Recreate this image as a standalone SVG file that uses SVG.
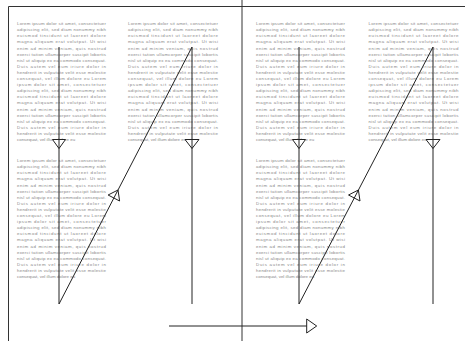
<svg xmlns="http://www.w3.org/2000/svg" width="465" height="341" viewBox="0 0 465 341">
<style>
.t{font-family:"Liberation Sans",Arial,sans-serif;font-size:4.4px;fill:#888}
.fr{fill:none;stroke:#333;stroke-width:1}
.ln{fill:none;stroke:#222;stroke-width:1}
.ah{fill:#fff;stroke:#222;stroke-width:1;stroke-linejoin:miter}
</style>
<rect width="465" height="341" fill="#fff"/>
<g id="frame">
<path class="fr" d="M8.5,341 V6.5 H465"/>
<line class="fr" x1="242" y1="0" x2="242" y2="341"/>
</g>
<g id="col1">
<g transform="translate(17,25.2)" class="t">
<text y="0" textLength="89">Lorem ipsum dolor sit amet, consectetuer</text>
<text y="6.1" textLength="89">adipiscing elit, sed diam nonummy nibh</text>
<text y="12.2" textLength="89">euismod tincidunt ut laoreet dolore</text>
<text y="18.3" textLength="89">magna aliquam erat volutpat. Ut wisi</text>
<text y="24.4" textLength="89">enim ad minim veniam, quis nostrud</text>
<text y="30.5" textLength="89">exerci tation ullamcorper suscipit lobortis</text>
<text y="36.6" textLength="89">nisl ut aliquip ex ea commodo consequat.</text>
<text y="42.7" textLength="89">Duis autem vel eum iriure dolor in</text>
<text y="48.8" textLength="89">hendrerit in vulputate velit esse molestie</text>
<text y="54.9" textLength="89">consequat, vel illum dolore eu Lorem</text>
<text y="61" textLength="89">ipsum dolor sit amet, consectetuer</text>
<text y="67.1" textLength="89">adipiscing elit, sed diam nonummy nibh</text>
<text y="73.2" textLength="89">euismod tincidunt ut laoreet dolore</text>
<text y="79.3" textLength="89">magna aliquam erat volutpat. Ut wisi</text>
<text y="85.4" textLength="89">enim ad minim veniam, quis nostrud</text>
<text y="91.5" textLength="89">exerci tation ullamcorper suscipit lobortis</text>
<text y="97.6" textLength="89">nisl ut aliquip ex ea commodo consequat.</text>
<text y="103.7" textLength="89">Duis autem vel eum iriure dolor in</text>
<text y="109.8" textLength="89">hendrerit in vulputate velit esse molestie</text>
<text y="115.9">consequat, vel illum dolore eu</text>
</g>
<g transform="translate(17,162.2)" class="t">
<text y="0" textLength="89">Lorem ipsum dolor sit amet, consectetuer</text>
<text y="6.1" textLength="89">adipiscing elit, sed diam nonummy nibh</text>
<text y="12.2" textLength="89">euismod tincidunt ut laoreet dolore</text>
<text y="18.3" textLength="89">magna aliquam erat volutpat. Ut wisi</text>
<text y="24.4" textLength="89">enim ad minim veniam, quis nostrud</text>
<text y="30.5" textLength="89">exerci tation ullamcorper suscipit lobortis</text>
<text y="36.6" textLength="89">nisl ut aliquip ex ea commodo consequat.</text>
<text y="42.7" textLength="89">Duis autem vel eum iriure dolor in</text>
<text y="48.8" textLength="89">hendrerit in vulputate velit esse molestie</text>
<text y="54.9" textLength="89">consequat, vel illum dolore eu Lorem</text>
<text y="61" textLength="89">ipsum dolor sit amet, consectetuer</text>
<text y="67.1" textLength="89">adipiscing elit, sed diam nonummy nibh</text>
<text y="73.2" textLength="89">euismod tincidunt ut laoreet dolore</text>
<text y="79.3" textLength="89">magna aliquam erat volutpat. Ut wisi</text>
<text y="85.4" textLength="89">enim ad minim veniam, quis nostrud</text>
<text y="91.5" textLength="89">exerci tation ullamcorper suscipit lobortis</text>
<text y="97.6" textLength="89">nisl ut aliquip ex ea commodo consequat.</text>
<text y="103.7" textLength="89">Duis autem vel eum iriure dolor in</text>
<text y="109.8" textLength="89">hendrerit in vulputate velit esse molestie</text>
<text y="115.9">consequat, vel illum dolore eu</text>
</g>
</g>
<g id="col2">
<g transform="translate(128,25.2)" class="t">
<text y="0" textLength="90">Lorem ipsum dolor sit amet, consectetuer</text>
<text y="6.1" textLength="90">adipiscing elit, sed diam nonummy nibh</text>
<text y="12.2" textLength="90">euismod tincidunt ut laoreet dolore</text>
<text y="18.3" textLength="90">magna aliquam erat volutpat. Ut wisi</text>
<text y="24.4" textLength="90">enim ad minim veniam, quis nostrud</text>
<text y="30.5" textLength="90">exerci tation ullamcorper suscipit lobortis</text>
<text y="36.6" textLength="90">nisl ut aliquip ex ea commodo consequat.</text>
<text y="42.7" textLength="90">Duis autem vel eum iriure dolor in</text>
<text y="48.8" textLength="90">hendrerit in vulputate velit esse molestie</text>
<text y="54.9" textLength="90">consequat, vel illum dolore eu Lorem</text>
<text y="61" textLength="90">ipsum dolor sit amet, consectetuer</text>
<text y="67.1" textLength="90">adipiscing elit, sed diam nonummy nibh</text>
<text y="73.2" textLength="90">euismod tincidunt ut laoreet dolore</text>
<text y="79.3" textLength="90">magna aliquam erat volutpat. Ut wisi</text>
<text y="85.4" textLength="90">enim ad minim veniam, quis nostrud</text>
<text y="91.5" textLength="90">exerci tation ullamcorper suscipit lobortis</text>
<text y="97.6" textLength="90">nisl ut aliquip ex ea commodo consequat.</text>
<text y="103.7" textLength="90">Duis autem vel eum iriure dolor in</text>
<text y="109.8" textLength="90">hendrerit in vulputate velit esse molestie</text>
<text y="115.9">consequat, vel illum dolore eu</text>
</g>
</g>
<g id="col3">
<g transform="translate(256,25.2)" class="t">
<text y="0" textLength="89">Lorem ipsum dolor sit amet, consectetuer</text>
<text y="6.1" textLength="89">adipiscing elit, sed diam nonummy nibh</text>
<text y="12.2" textLength="89">euismod tincidunt ut laoreet dolore</text>
<text y="18.3" textLength="89">magna aliquam erat volutpat. Ut wisi</text>
<text y="24.4" textLength="89">enim ad minim veniam, quis nostrud</text>
<text y="30.5" textLength="89">exerci tation ullamcorper suscipit lobortis</text>
<text y="36.6" textLength="89">nisl ut aliquip ex ea commodo consequat.</text>
<text y="42.7" textLength="89">Duis autem vel eum iriure dolor in</text>
<text y="48.8" textLength="89">hendrerit in vulputate velit esse molestie</text>
<text y="54.9" textLength="89">consequat, vel illum dolore eu Lorem</text>
<text y="61" textLength="89">ipsum dolor sit amet, consectetuer</text>
<text y="67.1" textLength="89">adipiscing elit, sed diam nonummy nibh</text>
<text y="73.2" textLength="89">euismod tincidunt ut laoreet dolore</text>
<text y="79.3" textLength="89">magna aliquam erat volutpat. Ut wisi</text>
<text y="85.4" textLength="89">enim ad minim veniam, quis nostrud</text>
<text y="91.5" textLength="89">exerci tation ullamcorper suscipit lobortis</text>
<text y="97.6" textLength="89">nisl ut aliquip ex ea commodo consequat.</text>
<text y="103.7" textLength="89">Duis autem vel eum iriure dolor in</text>
<text y="109.8" textLength="89">hendrerit in vulputate velit esse molestie</text>
<text y="115.9">consequat, vel illum dolore eu</text>
</g>
<g transform="translate(256,162.2)" class="t">
<text y="0" textLength="89">Lorem ipsum dolor sit amet, consectetuer</text>
<text y="6.1" textLength="89">adipiscing elit, sed diam nonummy nibh</text>
<text y="12.2" textLength="89">euismod tincidunt ut laoreet dolore</text>
<text y="18.3" textLength="89">magna aliquam erat volutpat. Ut wisi</text>
<text y="24.4" textLength="89">enim ad minim veniam, quis nostrud</text>
<text y="30.5" textLength="89">exerci tation ullamcorper suscipit lobortis</text>
<text y="36.6" textLength="89">nisl ut aliquip ex ea commodo consequat.</text>
<text y="42.7" textLength="89">Duis autem vel eum iriure dolor in</text>
<text y="48.8" textLength="89">hendrerit in vulputate velit esse molestie</text>
<text y="54.9" textLength="89">consequat, vel illum dolore eu Lorem</text>
<text y="61" textLength="89">ipsum dolor sit amet, consectetuer</text>
<text y="67.1" textLength="89">adipiscing elit, sed diam nonummy nibh</text>
<text y="73.2" textLength="89">euismod tincidunt ut laoreet dolore</text>
<text y="79.3" textLength="89">magna aliquam erat volutpat. Ut wisi</text>
<text y="85.4" textLength="89">enim ad minim veniam, quis nostrud</text>
<text y="91.5" textLength="89">exerci tation ullamcorper suscipit lobortis</text>
<text y="97.6" textLength="89">nisl ut aliquip ex ea commodo consequat.</text>
<text y="103.7" textLength="89">Duis autem vel eum iriure dolor in</text>
<text y="109.8" textLength="89">hendrerit in vulputate velit esse molestie</text>
<text y="115.9">consequat, vel illum dolore eu</text>
</g>
</g>
<g id="col4">
<g transform="translate(368.5,25.2)" class="t">
<text y="0" textLength="90">Lorem ipsum dolor sit amet, consectetuer</text>
<text y="6.1" textLength="90">adipiscing elit, sed diam nonummy nibh</text>
<text y="12.2" textLength="90">euismod tincidunt ut laoreet dolore</text>
<text y="18.3" textLength="90">magna aliquam erat volutpat. Ut wisi</text>
<text y="24.4" textLength="90">enim ad minim veniam, quis nostrud</text>
<text y="30.5" textLength="90">exerci tation ullamcorper suscipit lobortis</text>
<text y="36.6" textLength="90">nisl ut aliquip ex ea commodo consequat.</text>
<text y="42.7" textLength="90">Duis autem vel eum iriure dolor in</text>
<text y="48.8" textLength="90">hendrerit in vulputate velit esse molestie</text>
<text y="54.9" textLength="90">consequat, vel illum dolore eu Lorem</text>
<text y="61" textLength="90">ipsum dolor sit amet, consectetuer</text>
<text y="67.1" textLength="90">adipiscing elit, sed diam nonummy nibh</text>
<text y="73.2" textLength="90">euismod tincidunt ut laoreet dolore</text>
<text y="79.3" textLength="90">magna aliquam erat volutpat. Ut wisi</text>
<text y="85.4" textLength="90">enim ad minim veniam, quis nostrud</text>
<text y="91.5" textLength="90">exerci tation ullamcorper suscipit lobortis</text>
<text y="97.6" textLength="90">nisl ut aliquip ex ea commodo consequat.</text>
<text y="103.7" textLength="90">Duis autem vel eum iriure dolor in</text>
<text y="109.8" textLength="90">hendrerit in vulputate velit esse molestie</text>
<text y="115.9">consequat, vel illum dolore eu</text>
</g>
</g>
<g id="arrowheads">
<polygon class="ah" points="52.5,139.5 65.5,139.5 59,148.5"/>
<polygon class="ah" points="185,139.5 199,139.5 192,148.5"/>
<polygon class="ah" points="292.5,139.5 305.5,139.5 299,148.5"/>
<polygon class="ah" points="426,139.5 440,139.5 433,148.5"/>
<polygon class="ah" points="118,190 119.6,201 108.1,195"/>
<polygon class="ah" points="358.4,190 360,201 348.5,195"/>
<polygon class="ah" points="306.7,319 306.7,333 316.7,326"/>
</g>
<g id="connectors">
<path class="ln" d="M59,47 V304 L192,47 V304"/>
<path class="ln" d="M299,47 V304 L433,47 V304"/>
<line class="ln" x1="169" y1="326" x2="306.7" y2="326"/>
</g>
</svg>
